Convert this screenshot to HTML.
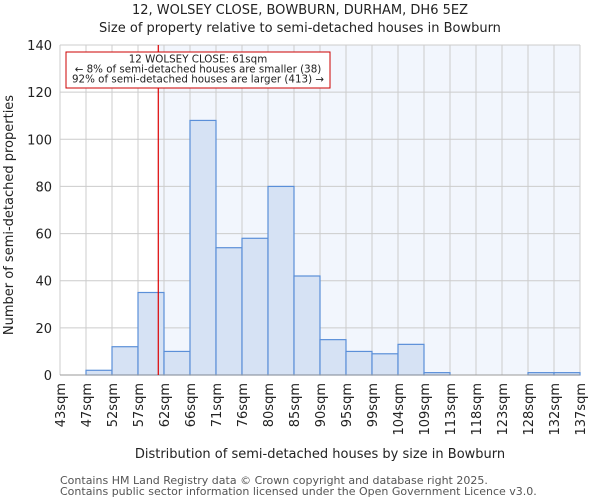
<!DOCTYPE html>
<html><head><meta charset="utf-8"><style>
body{margin:0;background:#fff;font-family:"DejaVu Sans","Liberation Sans",sans-serif;}
text{font-family:"DejaVu Sans","Liberation Sans",sans-serif;fill:#222;}
</style></head><body>
<svg id="chart" width="600" height="500" xmlns="http://www.w3.org/2000/svg">
<text x="300" y="14" font-size="13" text-anchor="middle">12, WOLSEY CLOSE, BOWBURN, DURHAM, DH6 5EZ</text>
<text x="300" y="32" font-size="13" text-anchor="middle">Size of property relative to semi-detached houses in Bowburn</text>
<g id="plot"></g>
<text x="320" y="458" font-size="13" text-anchor="middle">Distribution of semi-detached houses by size in Bowburn</text>
<text transform="translate(13,215) rotate(-90)" font-size="13" text-anchor="middle">Number of semi-detached properties</text>
<text x="60" y="484" font-size="11" style="fill:#555">Contains HM Land Registry data © Crown copyright and database right 2025.</text>
<text x="60" y="495" font-size="11" style="fill:#555">Contains public sector information licensed under the Open Government Licence v3.0.</text>
</svg>
<script>
const binLabels=["43sqm","47sqm","52sqm","57sqm","62sqm","66sqm","71sqm","76sqm","80sqm","85sqm","90sqm","95sqm","99sqm","104sqm","109sqm","113sqm","118sqm","123sqm","128sqm","132sqm","137sqm"];
const counts=[0,2,12,35,10,108,54,58,80,42,15,10,9,13,1,0,0,0,1,1];
const yTicks=[0,20,40,60,80,100,120,140];
const subjectBinPos=[3.78];
const NS="http://www.w3.org/2000/svg";
const g=document.getElementById('plot');
const L=60,R=580,T=45,B=375,yMax=140;
const n=counts.length;
const xs=i=>L+(R-L)*i/n;
const ys=v=>B-(B-T)*v/yMax;
function mk(tag,attrs){const e=document.createElementNS(NS,tag);for(const k in attrs)e.setAttribute(k,attrs[k]);g.appendChild(e);return e;}
const sx=xs(subjectBinPos[0]);
let e=mk('rect',{x:sx,y:T,width:R-sx,height:B-T,fill:'#f2f6fd'});


for(let i=0;i<=n;i++){e=mk('line',{x1:xs(i),x2:xs(i),y1:T,y2:B,stroke:'#ccc','stroke-width':1});

}
yTicks.forEach(v=>{e=mk('line',{x1:L,x2:R,y1:ys(v),y2:ys(v),stroke:'#ccc','stroke-width':1});


const t=mk('text',{x:L-8,y:ys(v)+5,'font-size':13,'text-anchor':'end'});t.textContent=v;

});
counts.forEach((c,i)=>{if(c<=0)return;e=mk('rect',{x:xs(i),y:ys(c),width:xs(i+1)-xs(i),height:B-ys(c),fill:'#d6e2f4',stroke:'#5b8fd8','stroke-width':1.2});

});
e=mk('line',{x1:L,x2:R,y1:B,y2:B,stroke:'#999'});


binLabels.forEach((lb,i)=>{const x=xs(i);const t=mk('text',{transform:`translate(${x+5},${B+8}) rotate(-90)`,'font-size':13,'text-anchor':'end'});t.textContent=lb;

});
e=mk('line',{x1:sx,x2:sx,y1:T,y2:B,stroke:'#d00','stroke-width':1.2});


e=mk('rect',{x:66,y:52,width:264,height:36,fill:'#fff',stroke:'#c00','stroke-width':1});


["12 WOLSEY CLOSE: 61sqm","← 8% of semi-detached houses are smaller (38)","92% of semi-detached houses are larger (413) →"].forEach((s,k)=>{const t=mk('text',{x:198,y:62.5+k*10,'font-size':10.3,'text-anchor':'middle'});t.textContent=s;

});
</script>
</body></html>
